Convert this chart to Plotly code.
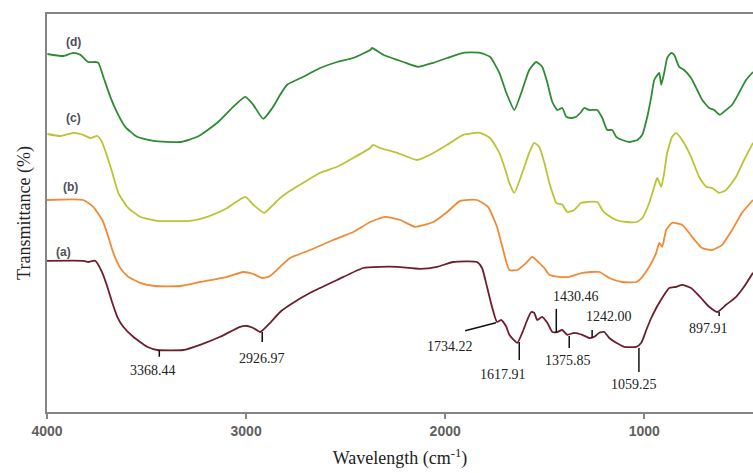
import plotly.graph_objects as go

# ---------------- data ----------------
wn_d = [3998,3918,3868,3833,3793,3758,3742,3717,3682,3647,3607,3547,3466,3331,3245,3145,3065,3004,2964,2914,
        2864,2829,2794,2713,2628,2543,2462,2377,2367,2311,2211,2136,2060,1990,1910,1825,1775,1728,1693,1678,
        1653,1613,1578,1543,1513,1487,1462,1437,1412,1392,1367,1342,1317,1302,1276,1236,1211,1186,1161,1141,
        1111,1072,1035,1010,985,965,950,925,915,900,885,865,850,825,800,765,734,709,674,649,620,589,559,524,489,454]
t_d = [89.5,89,89.8,89.3,87.5,87.5,87.3,83.8,78.8,74.8,71.3,68.8,67.8,67.5,68.8,72.3,76.3,78.8,76.8,73.3,
       76.3,79.3,81.8,83.8,86,87.5,88.5,90.5,91,89.3,87.5,86.3,87.3,88.5,89.8,89.8,88.8,84.8,79.8,78,
       75.5,80.5,85.5,87.5,86.3,82.3,77.5,75.5,76,73.8,73.5,73.8,75,76,75.5,75.5,73.5,70.5,70.5,68.8,
       68,67.5,68,69.3,73.8,78.8,83,84.8,81.8,84.8,88.5,89.8,89.3,86.3,85.5,83.5,80.5,78,76,75.5,74.3,75.5,76.8,79.8,83,85]

wn_c = [3998,3933,3868,3818,3783,3747,3722,3697,3672,3642,3597,3532,3446,3281,3195,3095,3004,2964,2909,2864,
        2829,2794,2713,2628,2543,2462,2377,2362,2327,2241,2141,2076,1990,1910,1825,1775,1728,1693,1678,1653,
        1613,1578,1553,1528,1502,1477,1442,1412,1387,1352,1317,1286,1236,1211,1186,1141,1091,1040,1010,975,
        950,935,915,900,885,860,840,810,765,725,689,659,624,589,539,499,454]
t_c = [69.5,69,69.8,69.3,68.5,69,67.3,63.8,59.8,54.8,51.3,48.8,47.8,47.8,48.8,51,53.8,51.8,49.8,51.8,
       53.5,54.8,57.3,59.8,61.3,63.5,66,66.8,66,64.8,63,64.3,66.8,69.3,69.8,68.5,64.8,59.8,57.3,54.8,
       59.8,64.8,67.3,66.3,62.3,57.3,52.3,51.8,50,50.5,52.3,52.5,52.5,50.5,49.3,48,47.5,47.5,48.5,52.3,
       56.3,58.5,56.3,59.8,64.8,68.8,69.8,68,63.8,58.8,56.3,56,54.8,55.5,58.8,63,67.3]

wn_b = [4000,3818,3768,3722,3692,3667,3632,3592,3532,3457,3331,3231,3095,3014,2964,2919,2879,2829,2779,2678,
        2563,2462,2377,2301,2226,2151,2060,1990,1925,1840,1785,1740,1713,1678,1638,1593,1563,1528,1502,1477,
        1427,1377,1311,1226,1176,1111,1040,1010,975,940,925,910,890,860,810,760,710,659,609,559,509,454]
t_b = [53,53,51.3,48,43.8,39.8,36,33.8,32.3,31.5,31.5,32.5,33.8,35,34.5,33.5,34,36.3,38.5,40.5,
       43,45,47.5,48.8,48,46.3,47.5,50,52.8,53,51.3,46.3,41.3,35.5,35.5,37.3,38.8,37.3,36,34.3,
       33.8,33.8,34.8,35,33.5,32.5,32.5,33.8,36.3,39.8,42.3,41.3,45.5,47.3,46.8,43.8,41,40.5,41.8,45.5,49.8,53]

wn_a = [4000,3818,3793,3758,3722,3697,3672,3647,3617,3567,3497,3446,3316,3231,3130,3030,2994,2964,2929,2879,
        2829,2779,2678,2543,2412,2327,2241,2126,2040,1960,1840,1815,1790,1765,1740,1718,1693,1678,1638,1613,
        1588,1568,1553,1538,1513,1487,1462,1437,1412,1387,1352,1311,1276,1251,1226,1201,1176,1141,1101,1040,
        1015,990,965,940,925,900,875,840,810,765,715,674,634,589,539,499,454]
t_a = [37.8,37.8,37.5,37.8,34.8,31.3,27.3,23.8,21.3,18.8,16.3,15.5,15.5,16.8,18.8,21.3,21.5,21,20,22.3,
       25,26.8,29.8,33,36,36.3,36.3,35.8,36.3,37.5,37.5,36,31.3,26.3,22.5,23,21.3,19.3,17.3,19.8,
       23,25,24.8,23,23.8,22.3,20,20,20.5,19.3,19.8,19.3,18.5,18.8,19.8,20,18.5,17.3,16.3,16.3,
       17.3,20.5,23.5,26,27.3,29.3,31,31.3,31.8,31,28.5,26.3,25,26.8,28.8,31.3,34.8]

series_names = ["(a)", "(b)", "(c)", "(d)"]
series_colors = ["#6b1e2c", "#f08a35", "#b9c433", "#2f8a34"]
label_wn = [3918, 3883, 3868, 3868]
label_t = [40, 56.3, 73.5, 92.5]

# peak annotations: label text, tick segment (x0,y0)-(x1,y1), label position
peak_text = ["3368.44", "2926.97", "1734.22", "1617.91", "1430.46", "1375.85", "1242.00", "1059.25", "897.91"]
tick_x0 = [3436, 2919, 1900, 1628, 1442, 1377, 1262, 1027, 624]
tick_y0 = [15.5, 20.0, 20.3, 17.5, 25.8, 19.0, 20.5, 16.0, 25.0]
tick_x1 = [3436, 2919, 1745, 1628, 1442, 1377, 1262, 1027, 624]
tick_y1 = [13.8, 17.5, 22.3, 13.0, 19.8, 16.0, 18.5, 10.0, 24.0]
label_x = [3470, 2919, 1975, 1708, 1342, 1382, 1176, 1051, 680]
label_y = [10.3, 13.5, 16.3, 9.5, 29.0, 12.8, 23.8, 6.8, 20.8]

xticks = [4000, 3000, 2000, 1000]

# ---------------- figure ----------------
fig = go.Figure()
for wn, t, name, col in zip([wn_a, wn_b, wn_c, wn_d], [t_a, t_b, t_c, t_d], series_names, series_colors):
    fig.add_trace(go.Scatter(x=wn, y=t, mode="lines", name=name,
                             line=dict(color=col, width=1.8, shape="spline", smoothing=0.5),
                             showlegend=False, hoverinfo="skip"))

for name, x, y in zip(series_names, label_wn, label_t):
    fig.add_annotation(x=x, y=y, text="<b>" + name + "</b>", showarrow=False,
                       font=dict(family="Liberation Sans", size=12, color="#4d4d5c"))

for x0, y0, x1, y1 in zip(tick_x0, tick_y0, tick_x1, tick_y1):
    fig.add_shape(type="line", x0=x0, y0=y0, x1=x1, y1=y1, xref="x", yref="y",
                  line=dict(color="#111111", width=1.5))

for txt, x, y in zip(peak_text, label_x, label_y):
    fig.add_annotation(x=x, y=y, text=txt, showarrow=False,
                       font=dict(family="Liberation Serif", size=14, color="#222222"))

fig.update_layout(
    width=753, height=473,
    margin=dict(l=47, r=0, t=14, b=61),
    paper_bgcolor="white", plot_bgcolor="white",
    xaxis=dict(range=[4000, 454], tickvals=xticks, ticktext=["<b>%d</b>" % v for v in xticks],
               showgrid=False, zeroline=False, showline=True, linecolor="#858585", linewidth=2,
               mirror=True, ticks="outside", ticklen=5, tickcolor="#858585", tickwidth=2,
               tickfont=dict(family="Liberation Sans", size=14, color="#5f5f5f"),
               title=dict(text="Wavelength (cm<sup>-1</sup>)", standoff=14,
                          font=dict(family="Liberation Serif", size=18, color="#222222"))),
    yaxis=dict(range=[0, 99.5], showticklabels=False, ticks="", showgrid=False, zeroline=False,
               showline=True, linecolor="#858585", linewidth=2,
               title=dict(text="Transmittance (%)", standoff=10,
                          font=dict(family="Liberation Serif", size=18, color="#222222"))),
)

fig.write_html("out.html")
